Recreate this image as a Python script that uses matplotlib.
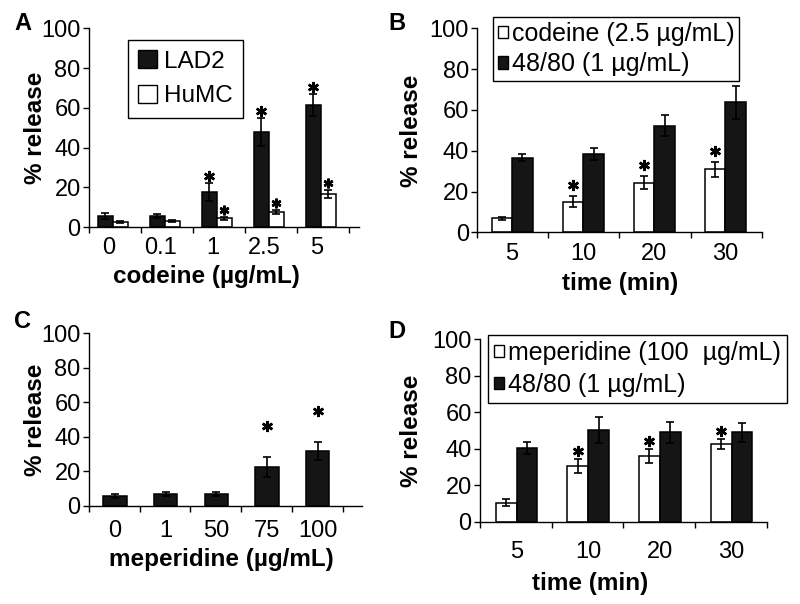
import numpy as np
import matplotlib
matplotlib.use('Agg')
import matplotlib.pyplot as plt
from matplotlib.patches import Patch

plt.rcParams['font.family'] = ['Liberation Sans', 'DejaVu Sans']

# panel A: codeine dose, LAD2 vs HuMC
doses_a = ['0', '0.1', '1', '2.5', '5']
lad2 = [5.7, 5.6, 17.9, 47.7, 61.5]
lad2_err = [1.5, 1.0, 4.5, 7.0, 5.5]
humc = [2.8, 3.2, 4.5, 7.7, 16.6]
humc_err = [0.5, 0.5, 0.7, 1.0, 2.0]
sig_a = [False, False, True, True, True]

# panel B: time course, codeine vs 48/80
times = ['5', '10', '20', '30']
codeine_b = [6.9, 15.0, 24.3, 30.9]
codeine_b_err = [0.7, 2.8, 3.3, 3.7]
c4880_b = [36.6, 38.4, 52.3, 63.7]
c4880_b_err = [1.6, 3.0, 5.2, 8.0]
sig_b = [False, True, True, True]

# panel C: meperidine dose
doses_c = ['0', '1', '50', '75', '100']
meperidine_c = [5.8, 6.6, 6.6, 22.7, 32.0]
meperidine_c_err = [1.2, 1.2, 1.2, 5.8, 5.2]
sig_c = [False, False, False, True, True]

# panel D: time course, meperidine vs 48/80
meperidine_d = [10.4, 30.5, 36.0, 42.6]
meperidine_d_err = [1.8, 3.7, 3.7, 2.6]
c4880_d = [40.2, 50.5, 49.0, 49.0]
c4880_d_err = [3.3, 7.1, 5.8, 5.3]
sig_d = [False, True, True, True]

TICK_FS = 17
LAB_FS = 17.5
DARK = '#151515'

fig = plt.figure(figsize=(8, 6.04), dpi=100)
axA = fig.add_axes([0.1113, 0.6237, 0.3375, 0.3295])
axB = fig.add_axes([0.5966, 0.6154, 0.3555, 0.3377])
axC = fig.add_axes([0.1113, 0.1627, 0.3410, 0.2854])
axD = fig.add_axes([0.6000, 0.1363, 0.3583, 0.3020])


def style_axis(ax, labels, centers, xmax, ylab_x, xlab_pos, ticklab_pad):
    ax.set_ylim(0, 100)
    ax.set_xlim(0, xmax)
    ax.set_yticks(np.arange(0, 101, 20))
    ax.set_xticks(np.arange(0, len(labels) + 1))
    ax.set_xticklabels([])
    ax.set_xticks(centers, minor=True)
    ax.set_xticklabels(labels, minor=True, fontsize=TICK_FS)
    ax.tick_params(axis='x', which='major', direction='out', length=4, width=1)
    ax.tick_params(axis='x', which='minor', length=0, pad=ticklab_pad)
    ax.tick_params(axis='y', direction='out', length=4, width=1, pad=2, labelsize=TICK_FS)
    for s in ['top', 'right']:
        ax.spines[s].set_visible(False)
    for s in ['left', 'bottom']:
        ax.spines[s].set_linewidth(1.0)
    ax.set_ylabel('% release', fontsize=LAB_FS, fontweight='bold')
    ax.yaxis.set_label_coords(ylab_x, 0.5)
    ax.xaxis.set_label_coords(*xlab_pos)


def stars(ax, x, vals, errs, sig, offset, ms=8):
    for xi, v, e, s in zip(x, vals, errs, sig):
        if s:
            ax.plot(xi, v + e + offset, marker=(6, 2, 0), ms=ms, mew=1.8,
                    color='black', linestyle='none', clip_on=False)


def legend(ax, handles, anchor, fs, hsize, spacing, pad, tpad):
    ax.legend(handles=handles, loc='upper left', bbox_to_anchor=anchor, fontsize=fs,
              frameon=True, fancybox=False, edgecolor='black', framealpha=1,
              handlelength=hsize, handleheight=hsize, handletextpad=tpad,
              labelspacing=spacing, borderpad=pad, borderaxespad=0)


ekw = dict(ecolor='black', capsize=3, error_kw=dict(elinewidth=1.2, capthick=1.2))

# ---- A
x = np.arange(len(doses_a)) + 0.46
w = 0.29
axA.bar(x - w / 2, lad2, w, yerr=lad2_err, color=DARK, edgecolor='black', lw=1.1, **ekw)
axA.bar(x + w / 2, humc, w, yerr=humc_err, color='white', edgecolor='black', lw=1.1, **ekw)
stars(axA, x - w / 2, lad2, lad2_err, sig_a, 3.5)
stars(axA, x + w / 2, humc, humc_err, sig_a, 3.5, ms=7)
axA.set_xlabel('codeine (µg/mL)', fontsize=LAB_FS, fontweight='bold', va='top')
style_axis(axA, doses_a, x - 0.08, 5.2, -0.156, (0.433, -0.19), 7)
legend(axA, [Patch(facecolor=DARK, edgecolor='black', label='LAD2'),
             Patch(facecolor='white', edgecolor='black', label='HuMC')],
       (0.145, 0.94), 17.5, 0.75, 0.5, 0.42, 0.3)

# ---- B
x = np.arange(len(times)) + 0.49
w = 0.29
axB.bar(x - w / 2, codeine_b, w, yerr=codeine_b_err, color='white', edgecolor='black', lw=1.1, **ekw)
axB.bar(x + w / 2, c4880_b, w, yerr=c4880_b_err, color=DARK, edgecolor='black', lw=1.1, **ekw)
stars(axB, x - w / 2, codeine_b, codeine_b_err, sig_b, 5.5)
axB.set_xlabel('time (min)', fontsize=LAB_FS, fontweight='bold', va='top')
style_axis(axB, times, x, 4, -0.19, (0.503, -0.195), 8)
legend(axB, [Patch(facecolor='white', edgecolor='black', label='codeine (2.5 µg/mL)'),
             Patch(facecolor=DARK, edgecolor='black', label='48/80 (1 µg/mL)')],
       (0.055, 1.055), 18, 0.4, 0.25, 0.2, 0.15)

# ---- C
x = np.arange(len(doses_c)) + 0.51
axC.bar(x, meperidine_c, 0.46, yerr=meperidine_c_err, color=DARK, edgecolor='black', lw=1.1, **ekw)
stars(axC, x, meperidine_c, meperidine_c_err, sig_c, 18)
axC.set_xlabel('meperidine (µg/mL)', fontsize=LAB_FS, fontweight='bold', va='top')
style_axis(axC, doses_c, x, 5.38, -0.154, (0.484, -0.245), 10)

# ---- D
x = np.arange(len(times)) + 0.51
axD.bar(x - w / 2, meperidine_d, w, yerr=meperidine_d_err, color='white', edgecolor='black', lw=1.1, **ekw)
axD.bar(x + w / 2, c4880_d, w, yerr=c4880_d_err, color=DARK, edgecolor='black', lw=1.1, **ekw)
stars(axD, x - w / 2, meperidine_d, meperidine_d_err, sig_d, 4.5)
axD.set_xlabel('time (min)', fontsize=LAB_FS, fontweight='bold', va='top')
style_axis(axD, times, x, 4, -0.199, (0.384, -0.274), 14)
legend(axD, [Patch(facecolor='white', edgecolor='black', label='meperidine (100  µg/mL)'),
             Patch(facecolor=DARK, edgecolor='black', label='48/80 (1 µg/mL)')],
       (0.028, 1.025), 18, 0.4, 0.32, 0.25, 0.15)

# panel letters
for lab, px, py in [('A', 22.5, 23.5), ('B', 397, 23.5), ('C', 22.5, 321), ('D', 397, 331)]:
    fig.text(px / 800, 1 - py / 604, lab, fontsize=17, fontweight='bold',
             ha='center', va='center')

fig.savefig('out.png', dpi=100)
